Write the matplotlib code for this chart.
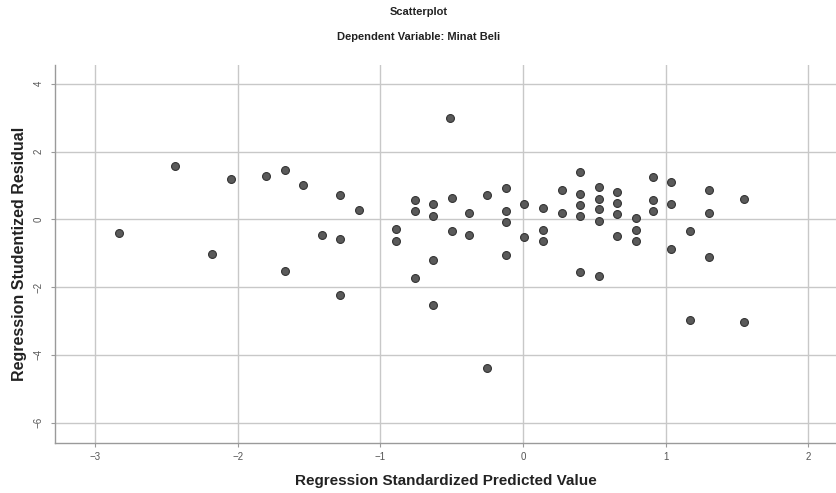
import matplotlib.pyplot as plt

plt.rcParams['font.family'] = ['Liberation Sans', 'DejaVu Sans']

# Regression standardized predicted value vs studentized residual
pred = [-2.83, -2.44, -2.18, -2.05, -1.80, -1.67, -1.67, -1.54, -1.41, -1.28,
        -1.28, -1.28, -1.15, -0.89, -0.89, -0.76, -0.76, -0.76, -0.63, -0.63,
        -0.63, -0.63, -0.51, -0.50, -0.50, -0.38, -0.38, -0.25, -0.25, -0.12,
        -0.12, -0.12, -0.12, 0.01, 0.01, 0.14, 0.14, 0.14, 0.27, 0.27,
        0.40, 0.40, 0.40, 0.40, 0.40, 0.53, 0.53, 0.53, 0.53, 0.53,
        0.66, 0.66, 0.66, 0.66, 0.79, 0.79, 0.79, 0.91, 0.91, 0.91,
        1.04, 1.04, 1.04, 1.17, 1.17, 1.30, 1.30, 1.30, 1.55, 1.55]
resid = [-0.40, 1.57, -1.03, 1.18, 1.27, 1.45, -1.53, 1.00, -0.45, 0.73,
         -0.59, -2.23, 0.27, -0.30, -0.64, 0.56, 0.24, -1.73, 0.44, 0.11,
         -1.20, -2.52, 3.00, 0.64, -0.35, 0.19, -0.46, 0.73, -4.40, 0.91,
         0.25, -0.08, -1.05, 0.46, -0.51, 0.34, -0.32, -0.64, 0.87, 0.20,
         1.40, 0.74, 0.41, 0.09, -1.55, 0.94, 0.61, 0.29, -0.05, -1.68,
         0.81, 0.48, 0.16, -0.49, 0.03, -0.31, -0.64, 1.24, 0.57, 0.24,
         1.10, 0.45, -0.87, -0.35, -2.97, 0.86, 0.19, -1.10, 0.59, -3.04]

x_ticks = [-3, -2, -1, 0, 1, 2]
y_ticks = [-6, -4, -2, 0, 2, 4]

fig = plt.figure(figsize=(8.37, 4.93), dpi=100)
ax = fig.add_axes([0.0657, 0.102, 0.9343, 0.766])

ax.scatter(pred, resid, s=32, color='#5a5a5a', edgecolors='#333333',
           linewidths=0.8, zorder=3)

ax.set_xlim(-3.28, 2.20)
ax.set_ylim(-6.59, 4.55)
ax.set_xticks(x_ticks)
ax.set_yticks(y_ticks)
ax.grid(True, color='#c8c8c8', linewidth=1.0, zorder=0)
ax.set_axisbelow(True)

for side in ['top', 'right']:
    ax.spines[side].set_visible(False)
for side in ['left', 'bottom']:
    ax.spines[side].set_color('#9a9a9a')
    ax.spines[side].set_linewidth(1.0)

ax.tick_params(axis='both', labelsize=7, colors='#9a9a9a', labelcolor='#555555',
               length=3)
ax.tick_params(axis='y', pad=5)
for lab in ax.get_yticklabels():
    lab.set_rotation(90)
    lab.set_va('center')

ax.set_xlabel('Regression Standardized Predicted Value', fontsize=11,
              fontweight='bold', color='#222222', labelpad=9)
ax.set_ylabel('Regression Studentized Residual', fontsize=11.5,
              fontweight='bold', color='#222222', labelpad=5)

fig.text(0.5, 0.985, 'Scatterplot', ha='center', va='top', fontsize=8,
         fontweight='bold', color='#222222')
fig.text(0.5, 0.935, 'Dependent Variable: Minat Beli', ha='center', va='top',
         fontsize=8, fontweight='bold', color='#222222')

fig.savefig('out.png', dpi=100)
